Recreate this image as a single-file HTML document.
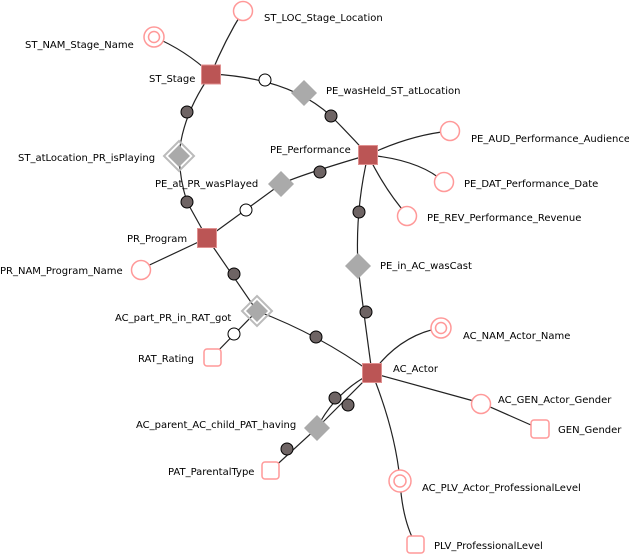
<!DOCTYPE html>
<html><head><meta charset="utf-8"><style>
html,body{margin:0;padding:0;background:#fff;width:629px;height:555px;overflow:hidden}
text{font-family:"DejaVu Sans","Liberation Sans",sans-serif;font-size:10px;fill:#000}
</style></head><body>
<svg width="629" height="555" viewBox="0 0 629 555" xmlns="http://www.w3.org/2000/svg">
<g fill="none" stroke="#222" stroke-width="1.2">
<!-- ST_Stage edges -->
<path d="M211,74 Q225,40 243,11"/>
<path d="M211,74 Q185,50 154,37"/>
<path d="M211,74 Q290,78 331,116 Q350,135 368,155"/>
<path d="M211,74 Q182,115 179,156 Q180,180 187,202 L207,238"/>
<!-- PE edges -->
<path d="M368,155 Q410,135 450,131"/>
<path d="M368,155 Q420,160 444,182"/>
<path d="M368,155 Q385,190 407,215"/>
<path d="M368,155 Q300,175 281,184 L207,238"/>
<path d="M368,155 Q355,210 358,266 Q362,300 372,373"/>
<!-- PR edges -->
<path d="M207,238 L141,269"/>
<path d="M207,238 L257,311 L212,357"/>
<path d="M257,311 Q320,335 372,373"/>
<!-- AC edges -->
<path d="M372,373 Q400,335 440,328"/>
<path d="M372,373 L481,403 L540,429"/>
<path d="M372,373 Q395,430 400,480 Q402,520 416,545"/>
<path d="M372,373 Q335,392 317,428"/>
<path d="M372,373 L317,428 L270,471"/>
</g>
<!-- attribute circles -->
<g fill="#fff" stroke="#f99" stroke-width="1.5">
<circle cx="243" cy="11" r="9.5"/>
<circle cx="154" cy="37" r="10"/><circle cx="154" cy="37" r="5.5"/>
<circle cx="450" cy="131" r="9.5"/>
<circle cx="444" cy="182" r="9.5"/>
<circle cx="407" cy="216" r="9.5"/>
<circle cx="141" cy="270" r="9.5"/>
<circle cx="441" cy="328" r="10"/><circle cx="441" cy="328" r="5.5"/>
<circle cx="481" cy="404" r="9.5"/>
<circle cx="400" cy="481" r="11"/><circle cx="400" cy="481" r="6"/>
<rect x="204" y="349" width="17" height="17" rx="3"/>
<rect x="531" y="420" width="18" height="18" rx="3"/>
<rect x="262" y="462" width="17" height="17" rx="3"/>
<rect x="407" y="536" width="17" height="17" rx="3"/>
</g>
<!-- entities -->
<g fill="#bb5555" stroke="#e09090" stroke-width="1">
<rect x="201.5" y="65" width="19" height="19"/>
<rect x="358.5" y="145.5" width="19" height="19"/>
<rect x="197.5" y="228.5" width="19" height="19"/>
<rect x="362.5" y="363.5" width="19" height="19"/>
</g>
<!-- relationships -->
<g fill="#aaa">
<polygon points="304,80 317,93 304,106 291,93"/>
<polygon points="281,171 294,184 281,197 268,184"/>
<polygon points="358,253 371,266 358,279 345,266"/>
<polygon points="317,415 330,428 317,441 304,428"/>
<polygon points="179,145 190,156 179,167 168,156"/>
<polygon points="257,300 268,311 257,322 246,311"/>
</g>
<g fill="none" stroke="#bbb" stroke-width="2">
<polygon points="179,141 194,156 179,171 164,156"/>
<polygon points="257,296 272,311 257,326 242,311"/>
</g>
<!-- dots -->
<g fill="#6e6464" stroke="#000" stroke-width="1">
<circle cx="187" cy="112" r="6"/>
<circle cx="331" cy="116" r="6"/>
<circle cx="320" cy="172" r="6"/>
<circle cx="187" cy="202" r="6"/>
<circle cx="359" cy="212" r="6"/>
<circle cx="234" cy="274" r="6"/>
<circle cx="366" cy="312" r="6"/>
<circle cx="316" cy="337" r="6"/>
<circle cx="335" cy="398" r="6"/>
<circle cx="348" cy="405" r="6"/>
<circle cx="287" cy="449" r="6"/>
</g>
<g fill="#fff" stroke="#000" stroke-width="1">
<circle cx="265" cy="80" r="6"/>
<circle cx="246" cy="210" r="6"/>
<circle cx="234" cy="334" r="6"/>
</g>
<!-- labels -->
<text x="264" y="21">ST_LOC_Stage_Location</text>
<text x="25" y="48">ST_NAM_Stage_Name</text>
<text x="149" y="82">ST_Stage</text>
<text x="326" y="94">PE_wasHeld_ST_atLocation</text>
<text x="270" y="153">PE_Performance</text>
<text x="471" y="142">PE_AUD_Performance_Audience</text>
<text x="464" y="187">PE_DAT_Performance_Date</text>
<text x="427" y="221">PE_REV_Performance_Revenue</text>
<text x="18" y="161">ST_atLocation_PR_isPlaying</text>
<text x="155" y="187">PE_at_PR_wasPlayed</text>
<text x="127" y="242">PR_Program</text>
<text x="0" y="274">PR_NAM_Program_Name</text>
<text x="380" y="269">PE_in_AC_wasCast</text>
<text x="115" y="321">AC_part_PR_in_RAT_got</text>
<text x="138" y="362">RAT_Rating</text>
<text x="463" y="339">AC_NAM_Actor_Name</text>
<text x="393" y="372">AC_Actor</text>
<text x="498" y="403">AC_GEN_Actor_Gender</text>
<text x="558" y="433">GEN_Gender</text>
<text x="136" y="428">AC_parent_AC_child_PAT_having</text>
<text x="168" y="475">PAT_ParentalType</text>
<text x="422" y="491">AC_PLV_Actor_ProfessionalLevel</text>
<text x="434" y="549">PLV_ProfessionalLevel</text>
</svg>
</body></html>
